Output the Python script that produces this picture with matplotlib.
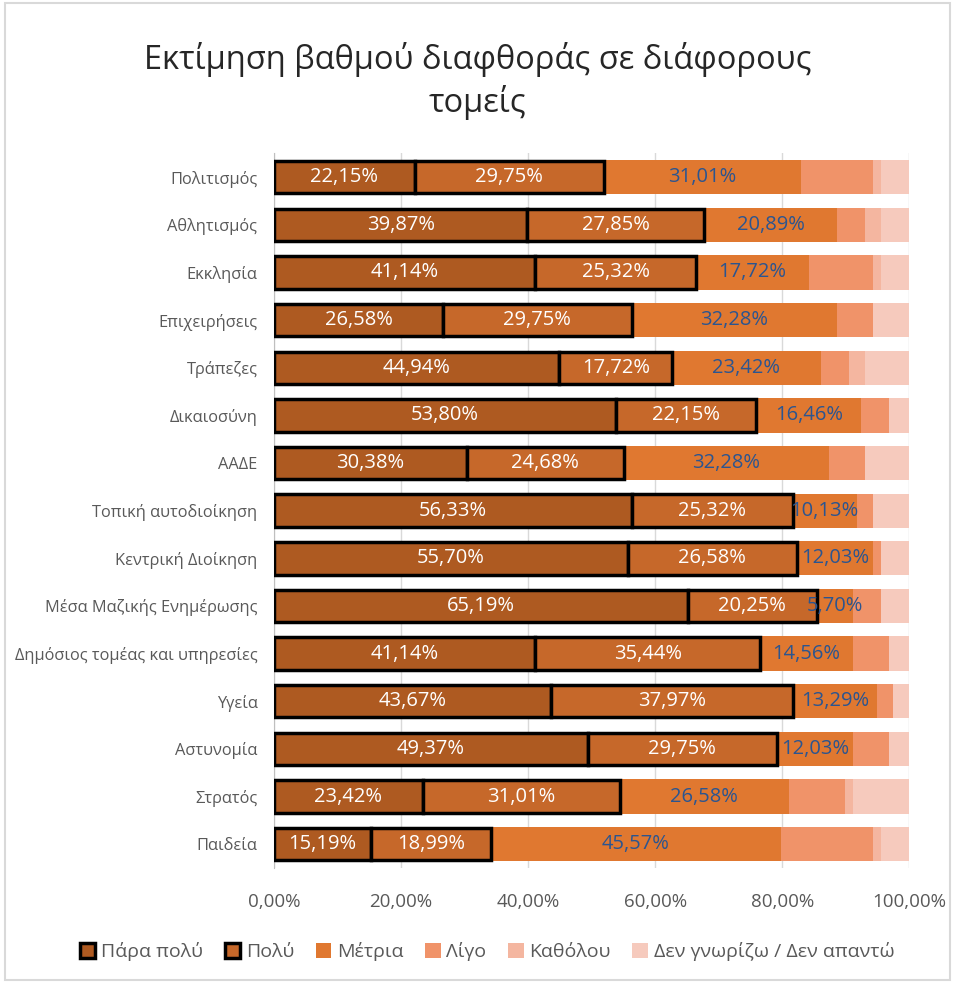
import matplotlib.pyplot as plt
import numpy as np
from matplotlib.patches import Rectangle

plt.rcParams['font.family'] = ['Open Sans', 'DejaVu Sans']

categories = ["Πολιτισμός", "Αθλητισμός", "Εκκλησία", "Επιχειρήσεις", "Τράπεζες",
              "Δικαιοσύνη", "ΑΑΔΕ", "Τοπική αυτοδιοίκηση", "Κεντρική Διοίκηση",
              "Μέσα Μαζικής Ενημέρωσης", "Δημόσιος τομέας και υπηρεσίες", "Υγεία",
              "Αστυνομία", "Στρατός", "Παιδεία"]

para_poly = [22.15, 39.87, 41.14, 26.58, 44.94, 53.80, 30.38, 56.33, 55.70, 65.19, 41.14, 43.67, 49.37, 23.42, 15.19]
poly = [29.75, 27.85, 25.32, 29.75, 17.72, 22.15, 24.68, 25.32, 26.58, 20.25, 35.44, 37.97, 29.75, 31.01, 18.99]
metria = [31.01, 20.89, 17.72, 32.28, 23.42, 16.46, 32.28, 10.13, 12.03, 5.70, 14.56, 13.29, 12.03, 26.58, 45.57]
ligo = [11.39, 4.43, 10.13, 5.70, 4.43, 4.43, 5.70, 2.53, 1.27, 4.43, 5.70, 2.53, 5.70, 8.86, 14.56]
katholou = [1.27, 2.53, 1.27, 0.00, 2.53, 0.00, 0.00, 0.00, 0.00, 0.00, 0.00, 0.00, 0.00, 1.27, 1.27]
den_xero = [4.43, 4.43, 4.43, 5.70, 6.96, 3.16, 6.96, 5.70, 4.43, 4.43, 3.16, 2.53, 3.16, 8.86, 4.43]

series = [("Πάρα πολύ", para_poly, '#AE5A21'),
          ("Πολύ", poly, '#C6682A'),
          ("Μέτρια", metria, '#E07830'),
          ("Λίγο", ligo, '#F09369'),
          ("Καθόλου", katholou, '#F4B6A0'),
          ("Δεν γνωρίζω / Δεν απαντώ", den_xero, '#F6CABD')]

fig = plt.figure(figsize=(9.55, 9.83), dpi=100)
ax = fig.add_axes([0.287, 0.117, 0.665, 0.727])

y = np.arange(len(categories))
left = np.zeros(len(categories))
for i, (name, vals, col) in enumerate(series):
    vals = np.array(vals)
    if i < 2:
        ax.barh(y, vals, left=left, height=0.68, color=col, edgecolor='black',
                linewidth=2.5, label=name, zorder=3)
    else:
        ax.barh(y, vals, left=left, height=0.72, color=col, label=name, zorder=2)
    if i < 3:
        tc = 'white' if i < 2 else '#2B5590'
        for yy, l, v in zip(y, left, vals):
            ax.text(l + v / 2, yy, f"{v:.2f}%".replace('.', ','), ha='center', va='center',
                    fontsize=14.5, color=tc, zorder=5)
    left += vals

ax.set_xlim(0, 100)
ax.set_ylim(len(categories) - 0.5, -0.5)
ax.set_yticks(y)
ax.set_yticklabels(categories, fontsize=11.8, color='#595959')
ax.set_xticks(np.arange(0, 101, 20))
ax.set_xticklabels([f"{v:.2f}%".replace('.', ',') for v in np.arange(0, 101, 20)],
                   fontsize=13.5, color='#595959')
ax.tick_params(length=0)
ax.tick_params(axis='y', pad=12)
ax.tick_params(axis='x', pad=18)
ax.grid(axis='x', color='#D9D9D9', linewidth=1, zorder=0)
for s in ['top', 'right', 'bottom']:
    ax.spines[s].set_visible(False)
ax.spines['left'].set_color('#BFBFBF')

fig.text(0.5, 0.918, "Εκτίμηση βαθμού διαφθοράς σε διάφορους\nτομείς", ha='center', va='center',
         fontsize=23.5, color='#262626', linespacing=1.3)

fig.legend(loc='center', bbox_to_anchor=(0.51, 0.032), ncol=6, frameon=False,
           fontsize=14, handlelength=0.8, handleheight=0.8, handletextpad=0.3,
           columnspacing=1.1, labelcolor='#595959')

fig.patches.append(Rectangle((0.005, 0.003), 0.99, 0.994, transform=fig.transFigure,
                             fill=False, edgecolor='#D9D9D9', linewidth=1.5))

plt.savefig('out.png', dpi=100)
